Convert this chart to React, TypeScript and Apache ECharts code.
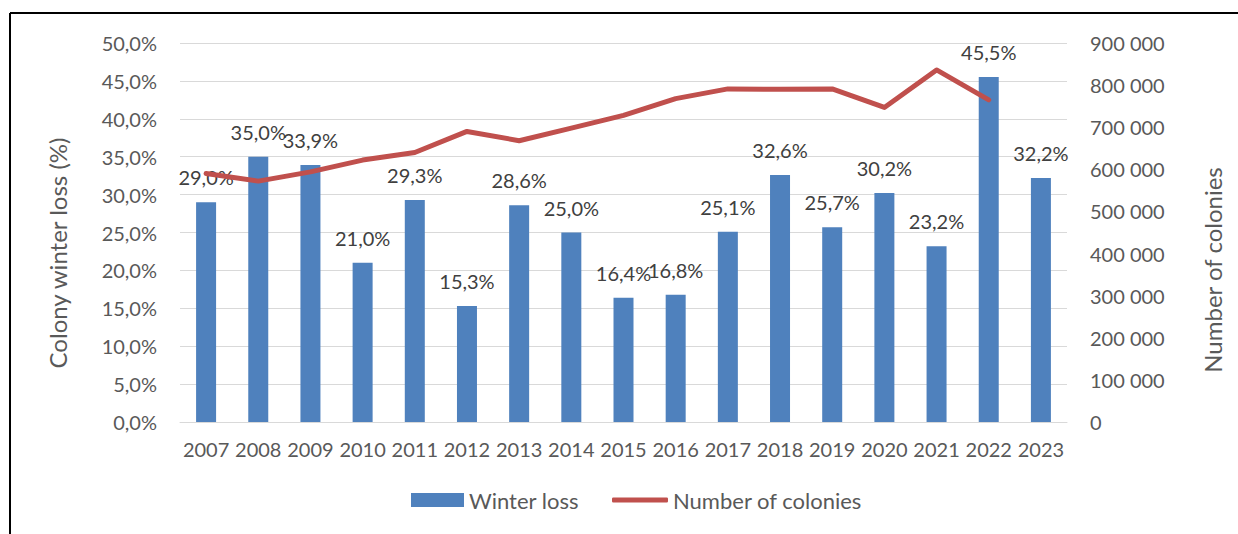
import React, { useEffect, useRef } from "react";
import * as echarts from "echarts";

const years = ["2007","2008","2009","2010","2011","2012","2013","2014","2015","2016","2017","2018","2019","2020","2021","2022","2023"];
const winterLoss = [29.0, 35.0, 33.9, 21.0, 29.3, 15.3, 28.6, 25.0, 16.4, 16.8, 25.1, 32.6, 25.7, 30.2, 23.2, 45.5, 32.2];
const colonies = [590000, 572000, 594000, 622000, 640000, 690000, 668000, 698000, 728000, 768000, 791000, 790000, 791000, 747000, 836000, 765000, null];

const FONT = "Lato";
const AXIS_COLOR = "#595959";
const LABEL_COLOR = "#404040";

function pct(v: number) {
  return v.toFixed(1).replace(".", ",") + "%";
}
function thousands(v: number) {
  return String(Math.round(v)).replace(/\B(?=(\d{3})+(?!\d))/g, " ");
}

export default function App() {
  const ref = useRef<HTMLDivElement>(null);
  useEffect(() => {
    if (!ref.current) return;
    const chart = echarts.init(ref.current, undefined, { renderer: "svg" });
    chart.setOption({
      animation: false,
      backgroundColor: "#ffffff",
      textStyle: { fontFamily: FONT },
      grid: { left: 180, right: 171, top: 43, bottom: 112 },
      legend: [
        {
          left: 411,
          top: 489,
          padding: 0,
          itemWidth: 53,
          itemHeight: 14,
          textStyle: { fontFamily: FONT, fontSize: 22, color: AXIS_COLOR },
          data: [{ name: "Winter loss", icon: "rect" }],
        },
        {
          left: 612,
          top: 489,
          padding: 0,
          itemWidth: 56,
          itemHeight: 5,
          textStyle: { fontFamily: FONT, fontSize: 22, color: AXIS_COLOR },
          data: [{ name: "Number of colonies", icon: "roundRect" }],
        },
      ],
      xAxis: {
        type: "category",
        data: years,
        axisLine: { lineStyle: { color: "#D9D9D9", width: 1 } },
        axisTick: { show: false },
        axisLabel: { color: AXIS_COLOR, fontSize: 20, fontFamily: FONT, margin: 17, interval: 0 },
      },
      yAxis: [
        {
          type: "value",
          min: 0,
          max: 50,
          interval: 5,
          axisLabel: { color: AXIS_COLOR, fontSize: 20, fontFamily: FONT, margin: 23, formatter: (v: number) => pct(v) },
          splitLine: { lineStyle: { color: "#D9D9D9", width: 1 } },
          axisLine: { show: false },
          axisTick: { show: false },
        },
        {
          type: "value",
          min: 0,
          max: 900000,
          interval: 100000,
          position: "right",
          axisLabel: { color: AXIS_COLOR, fontSize: 20, fontFamily: FONT, margin: 23, formatter: (v: number) => thousands(v) },
          splitLine: { show: false },
          axisLine: { show: false },
          axisTick: { show: false },
        },
      ],
      series: [
        {
          name: "Winter loss",
          type: "bar",
          data: winterLoss,
          barWidth: 20,
          itemStyle: { color: "#4F81BD" },
          label: {
            show: true,
            position: "top",
            distance: 15,
            color: LABEL_COLOR,
            fontSize: 20,
            fontFamily: FONT,
            formatter: (p: any) => pct(p.value),
          },
          z: 2,
        },
        {
          name: "Number of colonies",
          type: "line",
          yAxisIndex: 1,
          data: colonies,
          showSymbol: false,
          symbol: "none",
          lineStyle: { color: "#C0504D", width: 5, cap: "round", join: "round" },
          itemStyle: { color: "#C0504D" },
          z: 3,
        },
      ],
      graphic: [
        {
          type: "text",
          x: 57,
          y: 253,
          rotation: Math.PI / 2,
          style: { text: "Colony winter loss (%)", fontSize: 24, fontFamily: FONT, fill: AXIS_COLOR, align: "center", verticalAlign: "middle" },
        },
        {
          type: "text",
          x: 1212,
          y: 270,
          rotation: Math.PI / 2,
          style: { text: "Number of colonies", fontSize: 24, fontFamily: FONT, fill: AXIS_COLOR, align: "center", verticalAlign: "middle" },
        },
        {
          type: "line",
          shape: { x1: 10, y1: 13, x2: 1238, y2: 13 },
          style: { stroke: "#000000", lineWidth: 2 },
        },
        {
          type: "line",
          shape: { x1: 10, y1: 13, x2: 10, y2: 534 },
          style: { stroke: "#000000", lineWidth: 2 },
        },
      ],
    });
    return () => chart.dispose();
  }, []);
  return <div ref={ref} style={{ position: "fixed", left: 0, top: 0, width: 1238, height: 534 }} />;
}
